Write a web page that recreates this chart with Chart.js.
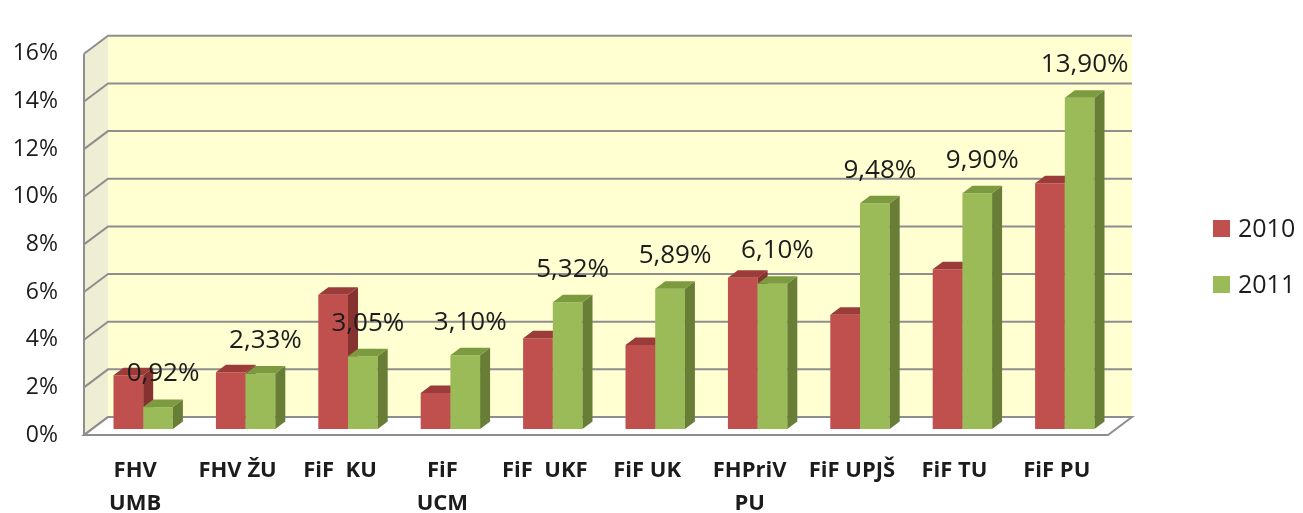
<!DOCTYPE html>
<html>
<head>
<meta charset="utf-8">
<script src="https://cdn.jsdelivr.net/npm/chart.js@4.4.1/dist/chart.umd.min.js"></script>
<style>
  html, body { margin: 0; padding: 0; background: #fff; }
  #wrap { width: 1303px; height: 513px; }
</style>
</head>
<body>
<div id="wrap"><canvas id="chart" width="1303" height="513"></canvas></div>
<script>
// data (percent)
const categories = [['FHV', 'UMB'], 'FHV ŽU', 'FiF  KU', ['FiF', 'UCM'], 'FiF  UKF', 'FiF UK', ['FHPriV', 'PU'], 'FiF UPJŠ', 'FiF TU', 'FiF PU'];
const seriesNames = ['2010', '2011'];
const values2010 = [2.26, 2.38, 5.64, 1.51, 3.81, 3.53, 6.35, 4.80, 6.71, 10.32];
const values2011 = [0.92, 2.33, 3.05, 3.10, 5.32, 5.89, 6.10, 9.48, 9.90, 13.90];
const yTicks = [0, 2, 4, 6, 8, 10, 12, 14, 16];

// fake 3D look (Excel style): back wall, front edge and bar depth offsets
const BACK = { dx: 16, dy: -12 };
const FRONT = { dx: -8, dy: 6 };
const DEPTH = { dx: 10, dy: 7.5 };
const GRID = '#8e8e8e';
const FONT = 'Open Sans';

const shades = {
    '#C0504D': { top: '#9C3C3A', side: '#853230' },
    '#9BBB59': { top: '#7C9A3F', side: '#687D36' },
};

const fmtPct = v => v.toFixed(2).replace('.', ',') + '%';

function drawDepth(ctx, meta, c) {
    meta.data.forEach(bar => {
        const { x, y, base, width } = bar.getProps(['x', 'y', 'base', 'width']);
        const L = x - width / 2, R = x + width / 2;
        ctx.fillStyle = c.side;
        ctx.beginPath();
        ctx.moveTo(R, y);
        ctx.lineTo(R + DEPTH.dx, y - DEPTH.dy);
        ctx.lineTo(R + DEPTH.dx, base - DEPTH.dy);
        ctx.lineTo(R, base);
        ctx.closePath();
        ctx.fill();
        ctx.fillStyle = c.top;
        ctx.beginPath();
        ctx.moveTo(L, y);
        ctx.lineTo(L + DEPTH.dx, y - DEPTH.dy);
        ctx.lineTo(R + DEPTH.dx, y - DEPTH.dy);
        ctx.lineTo(R, y);
        ctx.closePath();
        ctx.fill();
    });
}

const wallPlugin = {
    id: 'walls',
    beforeDatasetsDraw(chart) {
        const { ctx, chartArea: ca, scales: { y } } = chart;
        const top = y.getPixelForValue(yTicks[yTicks.length - 1]);
        const bot = y.getPixelForValue(0);
        const l = ca.left, r = ca.right;
        ctx.save();
        // back wall
        ctx.fillStyle = '#FFFFD2';
        ctx.fillRect(l + BACK.dx, top + BACK.dy, r - l, bot - top);
        // left wall
        ctx.fillStyle = '#EEEED4';
        ctx.beginPath();
        ctx.moveTo(l + FRONT.dx, top + FRONT.dy);
        ctx.lineTo(l + BACK.dx, top + BACK.dy);
        ctx.lineTo(l + BACK.dx, bot + BACK.dy);
        ctx.lineTo(l + FRONT.dx, bot + FRONT.dy);
        ctx.closePath();
        ctx.fill();
        // floor
        ctx.fillStyle = '#ffffff';
        ctx.beginPath();
        ctx.moveTo(l + FRONT.dx, bot + FRONT.dy);
        ctx.lineTo(l + BACK.dx, bot + BACK.dy);
        ctx.lineTo(r + BACK.dx, bot + BACK.dy);
        ctx.lineTo(r + FRONT.dx, bot + FRONT.dy);
        ctx.closePath();
        ctx.fill();
        ctx.strokeStyle = GRID;
        ctx.lineWidth = 2;
        ctx.stroke();
        // gridlines on back and left walls
        yTicks.forEach(v => {
            const p = y.getPixelForValue(v);
            ctx.beginPath();
            ctx.moveTo(l + FRONT.dx, p + FRONT.dy);
            ctx.lineTo(l + BACK.dx, p + BACK.dy);
            ctx.lineTo(r + BACK.dx, p + BACK.dy);
            ctx.stroke();
        });
        // front left edge
        ctx.beginPath();
        ctx.moveTo(l + FRONT.dx, top + FRONT.dy);
        ctx.lineTo(l + FRONT.dx, bot + FRONT.dy);
        ctx.stroke();
        ctx.restore();

        // bars: 2010 first, then 2011 in front of its side face
        chart.data.datasets.forEach((ds, i) => {
            const meta = chart.getDatasetMeta(i);
            meta.controller.draw();
            ctx.save();
            drawDepth(ctx, meta, shades[ds.backgroundColor]);
            ctx.restore();
        });
        return false;
    },
    afterDraw(chart) {
        const { ctx } = chart;
        ctx.save();
        ctx.fillStyle = '#1c1c1c';

        // value labels above the 2011 bars
        ctx.font = `26px "${FONT}"`;
        ctx.textAlign = 'center';
        ctx.textBaseline = 'middle';
        chart.getDatasetMeta(1).data.forEach((bar, i) => {
            ctx.fillText(fmtPct(values2011[i]), bar.x + 5, bar.y - 33);
        });

        // legend on the right
        ctx.font = `25px "${FONT}"`;
        const lx = chart.width - 90, cy = chart.height / 2;
        ctx.textAlign = 'left';
        chart.data.datasets.forEach((ds, i) => {
            const yc = cy - 28 + i * 56;
            ctx.fillStyle = ds.backgroundColor;
            ctx.fillRect(lx, yc - 8.5, 17, 17);
            ctx.fillStyle = '#1c1c1c';
            ctx.fillText(ds.label, lx + 25, yc + 1);
        });
        ctx.restore();
    },
};

new Chart(document.getElementById('chart'), {
    type: 'bar',
    data: {
        labels: categories,
        datasets: [
            { label: seriesNames[0], data: values2010, backgroundColor: '#C0504D' },
            { label: seriesNames[1], data: values2011, backgroundColor: '#9BBB59' },
        ],
    },
    options: {
        responsive: false,
        animation: false,
        devicePixelRatio: 1,
        layout: { padding: { top: 26, right: 187, bottom: 0, left: 0 } },
        datasets: { bar: { categoryPercentage: 0.58, barPercentage: 1, borderWidth: 0 } },
        plugins: { legend: { display: false }, tooltip: { enabled: false } },
        scales: {
            x: {
                grid: { display: false, drawTicks: false },
                border: { display: false },
                ticks: {
                    color: '#1c1c1c', maxRotation: 0, autoSkip: false,
                    labelOffset: FRONT.dx, padding: 25,
                    font: { family: FONT, size: 22, weight: 'bold', lineHeight: '33px' },
                },
                afterFit: s => { s.height = 84; },
            },
            y: {
                min: 0, max: 16,
                grid: { display: false, drawTicks: false },
                border: { display: false },
                afterBuildTicks: s => { s.ticks = yTicks.map(v => ({ value: v })); },
                ticks: {
                    color: '#1c1c1c', padding: 34, labelOffset: FRONT.dy,
                    font: { family: FONT, size: 23 },
                    callback: v => v + '%',
                },
                afterFit: s => { s.width = 92; },
            },
        },
    },
    plugins: [wallPlugin],
});
</script>
</body>
</html>
